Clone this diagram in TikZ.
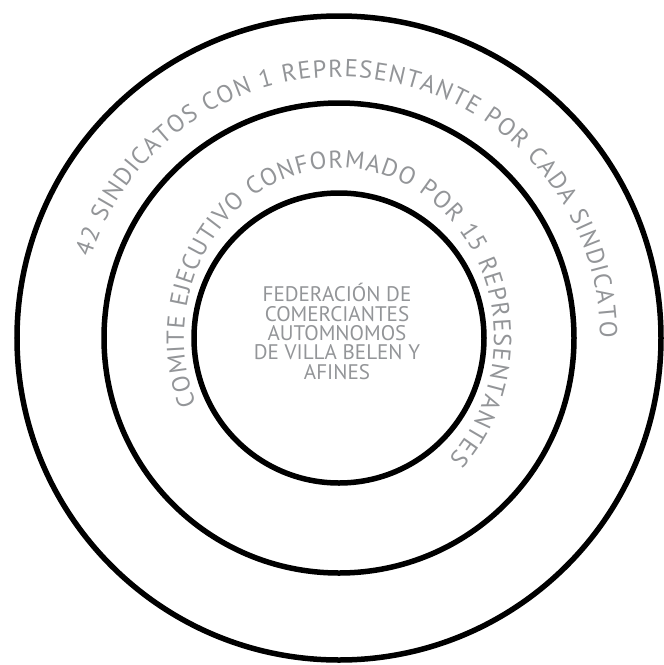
\documentclass[tikz,border=0pt]{standalone}
\usepackage{fontspec}
\setmainfont{PT Sans}
\usetikzlibrary{decorations.text}

\definecolor{txtgray}{RGB}{147,149,152}

\tikzset{
    ring/.style={draw, circle, line width=0.11cm, inner sep=0pt, outer sep=0pt},
    curvetxt/.style={decorate, decoration={text along path, text align=fit to path,
        text={|\color{txtgray}\fontsize{14}{14}\selectfont|#1}}}
}

\begin{document}
\begin{tikzpicture}

    \useasboundingbox (0,0) rectangle (13.28,-13.30);
    \coordinate (ctr) at (6.78,-6.76);

    % círculos
    \node[ring, minimum size=12.88cm] (outer) at (ctr) {};
    \node[ring, minimum size=9.40cm] (middle) at (ctr) {};
    \node[ring, minimum size=5.80cm] (inner) at (ctr) {};

    % textos en arco
    \path[curvetxt={42 SINDICATOS CON 1 REPRESENTANTE POR CADA SINDICATO}]
        (ctr) ++(162:5.22) arc[start angle=162, end angle=0, radius=5.22];
    \path[curvetxt={COMITE EJECUTIVO CONFORMADO POR 15 REPRESENTANTES}]
        (ctr) ++(203:3.10 and 3.40)
        arc[start angle=203, end angle=-45, x radius=3.10, y radius=3.40];

    % centro
    \node[
        align=center,
        text=txtgray,
        font=\fontsize{12}{11}\selectfont
    ] (fed) at (6.74,-6.63)
        {FEDERACIÓN DE\\COMERCIANTES\\AUTOMNOMOS\\DE VILLA BELEN Y\\AFINES};

\end{tikzpicture}
\end{document}
